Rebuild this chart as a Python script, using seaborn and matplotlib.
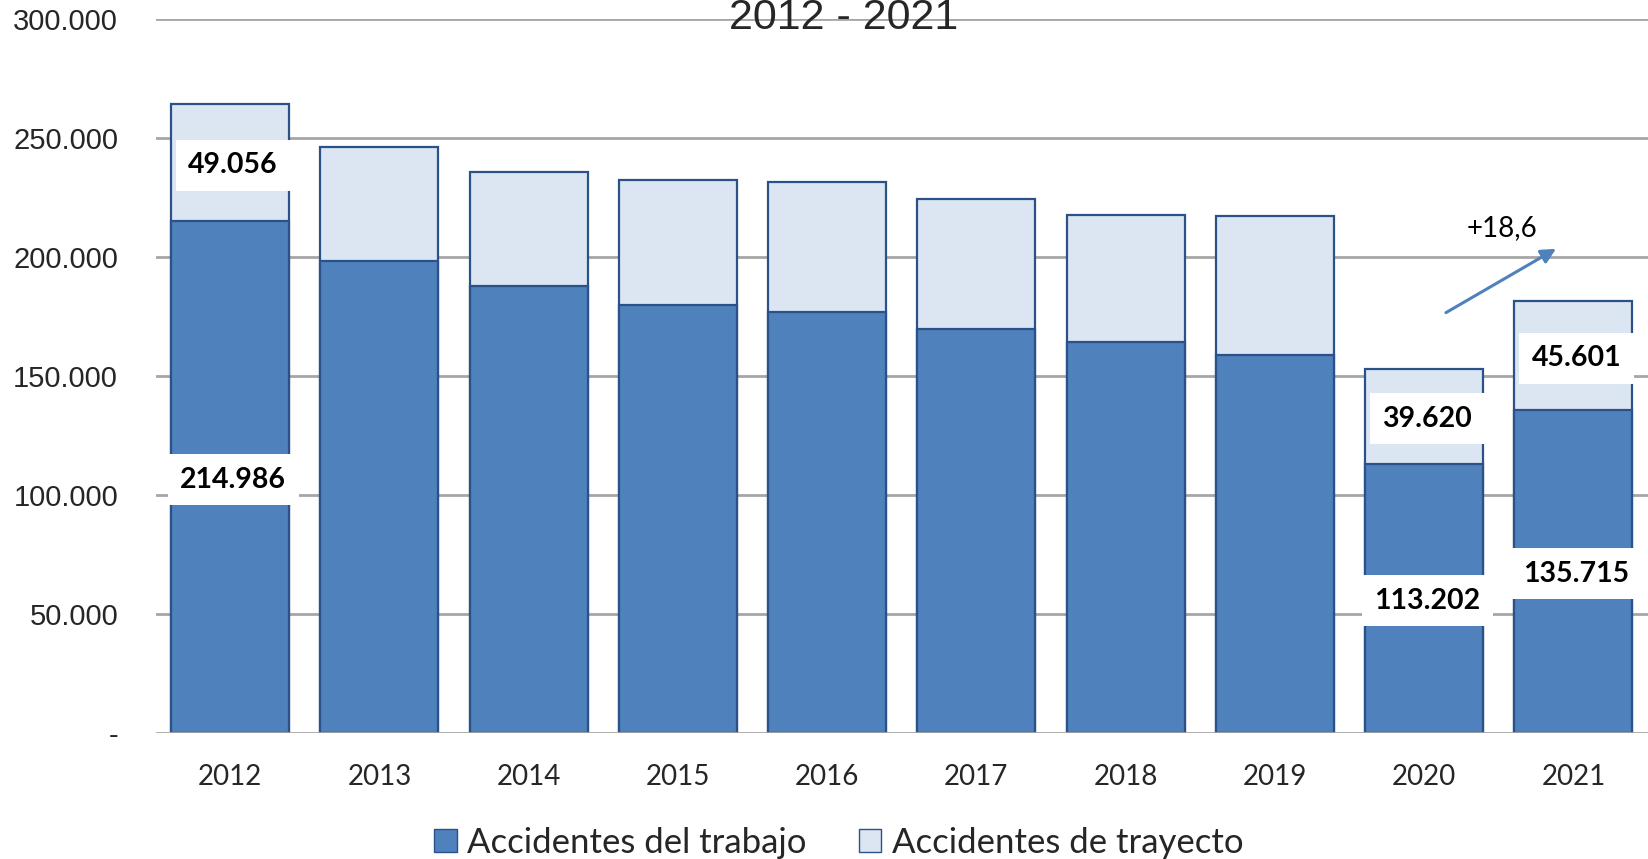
import numpy as np
import pandas as pd
import seaborn as sns
from matplotlib import pyplot as plt
from matplotlib.patches import Patch
from matplotlib.ticker import FuncFormatter

years = ['2012', '2013', '2014', '2015', '2016', '2017', '2018', '2019', '2020', '2021']
trabajo = [214986, 198400, 187800, 179800, 176700, 169700, 164400, 158600, 113202, 135715]
trayecto = [49056, 47700, 47700, 52600, 54800, 54700, 53400, 58800, 39620, 45601]
labeled = ['2012', '2020', '2021']
variacion = '+18,6'

dark = '#4F81BD'
light = '#DCE6F2'
edge = '#2A5288'

df = pd.DataFrame({'year': years, 'trabajo': trabajo, 'trayecto': trayecto})
df['total'] = df['trabajo'] + df['trayecto']

sns.set_style('white')
plt.rcParams['font.family'] = ['Lato', 'DejaVu Sans']

fig = plt.figure(figsize=(16.48, 8.59), dpi=100)
ax = fig.add_axes([0.0944, 0.1467, 0.9056, 0.8313])

sns.barplot(data=df, x='year', y='total', color=light, edgecolor=edge,
            linewidth=1.6, width=0.79, saturation=1, ax=ax, zorder=2)
sns.barplot(data=df, x='year', y='trabajo', color=dark, edgecolor=edge,
            linewidth=1.6, width=0.79, saturation=1, ax=ax, zorder=3)

ax.set_ylim(0, 300000)
ax.set_xlim(-0.5, 9.5)
ax.set_yticks(np.arange(0, 300001, 50000))
ax.yaxis.set_major_formatter(FuncFormatter(
    lambda v, p: '-' if v == 0 else f'{int(v):,}'.replace(',', '.')))
for v in range(50000, 300001, 50000):
    ax.axhline(v, color='#A6A6A6', lw=2, zorder=1)
ax.axhline(0, color='#A6A6A6', lw=2, zorder=4)
for s in ax.spines.values():
    s.set_visible(False)
ax.set_xlabel('')
ax.set_ylabel('')
ax.tick_params(axis='y', length=0, pad=27)
ax.tick_params(axis='x', length=0, pad=22)
for t in ax.get_yticklabels():
    t.set_fontfamily('Liberation Sans')
    t.set_fontsize(21)
for t in ax.get_xticklabels():
    t.set_fontsize(20)

box = dict(facecolor='white', edgecolor='none', pad=9)
for i, row in df.iterrows():
    if row['year'] not in labeled:
        continue
    ax.text(i + 0.02, row['trabajo'] / 2, f"{row['trabajo']:,}".replace(',', '.'),
            ha='center', va='center_baseline', fontsize=20.5, fontweight='bold',
            color='black', bbox=box, zorder=5)
    ax.text(i + 0.02, row['trabajo'] + row['trayecto'] / 2,
            f"{row['trayecto']:,}".replace(',', '.'),
            ha='center', va='center_baseline', fontsize=20.5, fontweight='bold',
            color='black', bbox=box, zorder=5)

ax.annotate('', xy=(8.9, 204000), xytext=(8.13, 176000),
            arrowprops=dict(arrowstyle='-|>', color=dark, lw=2.2, mutation_scale=22), zorder=6)
ax.text(8.52, 212000, variacion, ha='center', va='center', fontsize=20, color='black')

fig.text(0.512, 1 - 29 / 859, '2012 - 2021', ha='center', va='baseline',
         fontsize=31, family='Liberation Sans')

handles = [Patch(facecolor=dark, edgecolor=edge, label='Accidentes del trabajo'),
           Patch(facecolor=light, edgecolor=edge, label='Accidentes de trayecto')]
fig.legend(handles=handles, loc='center', bbox_to_anchor=(0.509, 0.019), ncol=2,
           frameon=False, fontsize=25, handlelength=0.65, handleheight=0.65,
           handletextpad=0.3, columnspacing=1.5)

fig.savefig('out.png', dpi=100)
